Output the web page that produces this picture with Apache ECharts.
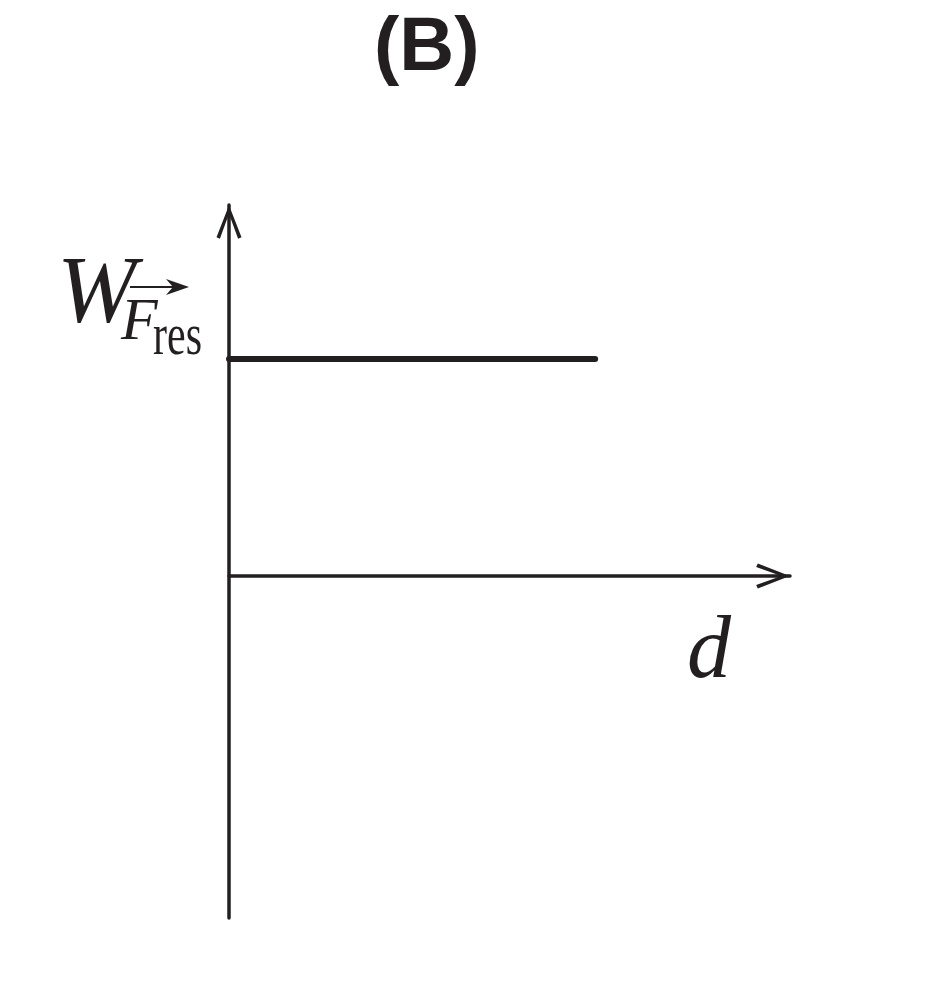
<!DOCTYPE html>
<html>
<head>
<meta charset="utf-8">
<script src="https://cdn.jsdelivr.net/npm/echarts@6/dist/echarts.min.js"></script>
<style>
  html, body { margin: 0; padding: 0; background: #fff; }
  #chart { width: 952px; height: 992px; }
</style>
</head>
<body>
<div id="chart"></div>
<script>
// data: resultant-force work stays constant over the distance
const dVals = [0, 0.995]
const wVals = [1, 1]
// axis ranges (x from 0, y crosses at 0)
const xMax = 1.5245
const yMin = -1.576
const yMax = 1.7097

const ink = '#231f20'
// open chevron used as axis arrow head
const chevron = 'path://M12.5,0 L25,32 L21.6,33.6 L12.5,8.5 L3.4,33.6 L0,32 Z'

const myChart = echarts.init(document.getElementById('chart'))
const options = {
    backgroundColor: '#fff',
    animation: false,
    title: {
        text: '(B)',
        left: 374,
        top: 11,
        padding: 0,
        textStyle: {
            fontFamily: 'Liberation Sans',
            fontWeight: 'bold',
            fontSize: 76,
            color: ink
        }
    },
    grid: {
        left: 229,
        top: 205,
        width: 561,
        bottom: 74,
        containLabel: false
    },
    xAxis: {
        type: 'value',
        min: 0,
        max: xMax,
        axisLine: {
            onZero: true,
            symbol: ['none', chevron],
            symbolSize: [25, 34],
            symbolOffset: [0, -17],
            lineStyle: { color: ink, width: 3.5 }
        },
        axisTick: { show: false },
        axisLabel: { show: false },
        splitLine: { show: false }
    },
    yAxis: {
        type: 'value',
        min: yMin,
        max: yMax,
        axisLine: {
            show: true,
            onZero: false,
            symbol: ['none', chevron],
            symbolSize: [25, 34],
            symbolOffset: [0, -17],
            lineStyle: { color: ink, width: 3.5 }
        },
        axisTick: { show: false },
        axisLabel: { show: false },
        splitLine: { show: false }
    },
    series: [{
        type: 'line',
        data: dVals.map((d, i) => [d, wVals[i]]),
        symbol: 'none',
        lineStyle: { color: ink, width: 6, cap: 'round' },
        z: 5
    }],
    // axis names drawn as free text so the subscript and vector arrow can be placed
    graphic: [
        { type: 'text', x: 57, y: 297,
          style: { text: 'W', font: 'italic 95px "Liberation Serif"', fill: ink,
                   align: 'left', verticalAlign: 'middle', textAlign: 'left', textVerticalAlign: 'middle' } },
        { type: 'text', x: 121, y: 323,
          style: { text: 'F', font: 'italic 60px "Liberation Serif"', fill: ink,
                   align: 'left', verticalAlign: 'middle', textAlign: 'left', textVerticalAlign: 'middle' } },
        { type: 'text', x: 153, y: 338, scaleX: 0.7,
          style: { text: 'res', font: '60px "Liberation Serif"', fill: ink,
                   align: 'left', verticalAlign: 'middle', textAlign: 'left', textVerticalAlign: 'middle' } },
        { type: 'line', shape: { x1: 130, y1: 287, x2: 180, y2: 287 },
          style: { stroke: ink, lineWidth: 2 } },
        { type: 'polygon', shape: { points: [[189, 287], [166, 279], [173, 287], [166, 295]] },
          style: { fill: ink } },
        { type: 'text', x: 687, y: 654,
          style: { text: 'd', font: 'italic 88px "Liberation Serif"', fill: ink,
                   align: 'left', verticalAlign: 'middle', textAlign: 'left', textVerticalAlign: 'middle' } }
    ]
}
myChart.setOption(options)
</script>
</body>
</html>
